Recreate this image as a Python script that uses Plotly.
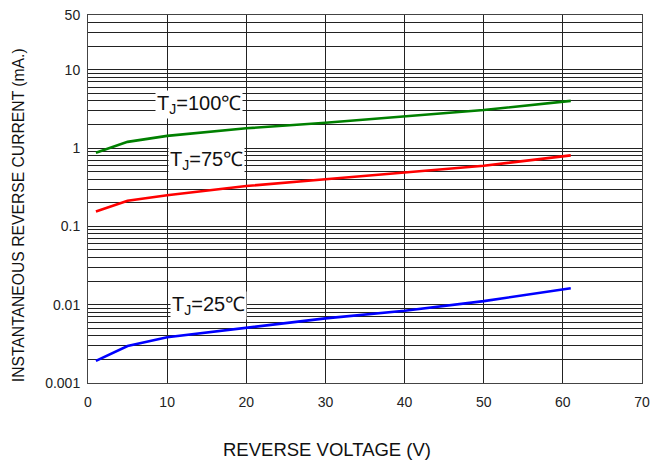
import math
import plotly.graph_objects as go

voltage = [1, 5, 10, 20, 30, 40, 50, 61]
i_100 = [0.87, 1.2, 1.43, 1.79, 2.1, 2.54, 3.06, 4.0]
i_75 = [0.155, 0.212, 0.25, 0.327, 0.40, 0.485, 0.594, 0.807]
i_25 = [0.00192, 0.00297, 0.00383, 0.00508, 0.00669, 0.00838, 0.0111, 0.0162]

labels = ["T<sub>J</sub>=100℃", "T<sub>J</sub>=75℃", "T<sub>J</sub>=25℃"]
label_x = [14.0, 15.0, 15.2]
label_y = [3.65, 0.70, 0.0099]

x_title = "REVERSE VOLTAGE (V)"
y_title = "INSTANTANEOUS REVERSE CURRENT (mA.)"

x_ticks = [0, 10, 20, 30, 40, 50, 60, 70]
y_labeled = [0.001, 0.01, 0.1, 1, 10, 50]
y_grid = [m * 10 ** e for e in range(-3, 2) for m in range(1, 10)] + [20, 30, 40, 50]

fig = go.Figure()
for y, c in [(i_100, "#008000"), (i_75, "#ff0000"), (i_25, "#0000ff")]:
    fig.add_trace(go.Scatter(x=voltage, y=y, mode="lines",
                             line=dict(color=c, width=2.6), showlegend=False))

for t, x, y in zip(labels, label_x, label_y):
    fig.add_annotation(x=x, y=math.log10(y), yref="y", text=t, showarrow=False,
                       font=dict(family="Liberation Sans", size=20, color="#111"),
                       bgcolor="white", borderpad=1)

# axis titles placed as in the reference (offset from the plot centre)
fig.add_annotation(text=x_title, xref="paper", yref="paper", x=0.431, y=-0.182,
                   xanchor="center", yanchor="middle",
                   showarrow=False, font=dict(size=18.5, color="#111"))
fig.add_annotation(text=y_title, xref="paper", yref="paper", x=-0.126, y=0.4565,
                   xanchor="center", yanchor="middle",
                   textangle=-90, showarrow=False, font=dict(size=15.7, color="#111"))

ytext = []
for v in y_grid:
    if any(abs(v - l) < 1e-12 for l in y_labeled):
        ytext.append(f"{v:g}")
    else:
        ytext.append("")

fig.update_layout(
    width=651, height=462,
    margin=dict(l=88, r=9, t=15, b=79),
    plot_bgcolor="white", paper_bgcolor="white",
    font=dict(family="Liberation Sans", size=14, color="#222"),
    xaxis=dict(range=[0, 70], tickvals=x_ticks, showgrid=True, gridcolor="#222",
               gridwidth=1, showline=True, linecolor="#444", mirror=True,
               zeroline=False, ticks="", ticklabelstandoff=6, automargin=False),
    yaxis=dict(type="log", range=[-3, 1.69897], tickvals=y_grid, ticktext=ytext,
               showgrid=True, gridcolor="#222", gridwidth=1, showline=True,
               linecolor="#444", mirror=True, zeroline=False, ticks="",
               automargin=False, ticklabelstandoff=4),
)

fig.write_html("out.html", config={"displayModeBar": False},
               post_script="document.body.style.margin='0px';")
